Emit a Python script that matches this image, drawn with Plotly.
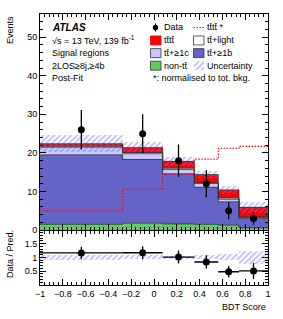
import numpy as np
import plotly.graph_objects as go

# ---------------- data ----------------
bin_edges = [-1.0, -0.275, 0.076, 0.354, 0.564, 0.746, 1.0]
data_counts = [26, 25, 18, 12, 5, 3]
data_err = [5.1, 5.0, 4.2, 3.5, 2.2, 1.7]
non_tt = [1.5, 1.8, 1.6, 1.5, 1.3, 0.6]
tt_1b = [18.0, 16.5, 13.0, 9.6, 6.05, 2.5]
tt_1c = [2.0, 1.5, 1.1, 1.0, 0.65, 0.2]
tt_light = [0.2, 0.3, 0.3, 0.2, 0.3, 0.15]
tttt = [0.7, 1.3, 1.8, 2.1, 2.1, 2.45]
total_unc = [2.2, 1.5, 1.1, 1.0, 1.1, 1.35]
tttt_norm = [5.0, 10.6, 14.5, 18.4, 21.2, 21.7]
x_ticks = [-1, -0.8, -0.6, -0.4, -0.2, 0, 0.2, 0.4, 0.6, 0.8, 1]
x_ticklabels = ["\u22121", "\u22120.8", "\u22120.6", "\u22120.4", "\u22120.2", "0",
                "0.2", "0.4", "0.6", "0.8", "1"]

# ---------------- derived ----------------
edges = np.array(bin_edges)
centers = 0.5 * (edges[:-1] + edges[1:])
widths = edges[1:] - edges[:-1]
comps = [
    ("non-tt", np.array(non_tt), "#64c864"),
    ("tt+>=1b", np.array(tt_1b), "#6464c8"),
    ("tt+>=1c", np.array(tt_1c), "#c8c8ff"),
    ("tt+light", np.array(tt_light), "#ffffff"),
    ("tttt", np.array(tttt), "#ff0000"),
]
total = sum(c[1] for c in comps)
unc = np.array(total_unc)
dat = np.array(data_counts, dtype=float)
derr = np.array(data_err)
ratio = dat / total
ratio_err = derr / total
rel_unc = unc / total

FONT = "Liberation Sans, Arial, Helvetica, sans-serif"
W, H = 283, 319
L, R, T, B = 40, 15, 13.5, 34
ph = H - T - B
pw = W - L - R
split = (285 - 230) / ph

def px(xp):
    return (xp - L) / pw

def py(yp):
    return (H - B - yp) / ph

fig = go.Figure()

# stacked components
base = np.zeros(len(centers))
tops = []
for name, vals, col in comps:
    fig.add_trace(go.Bar(x=centers, y=vals, base=base, width=widths,
                         marker=dict(color=col, line=dict(width=0)),
                         xaxis="x", yaxis="y", showlegend=False, hoverinfo="skip"))
    base = base + vals
    tops.append(base.copy())

# outlines of stacked components
for t in tops:
    fig.add_trace(go.Scatter(x=edges, y=np.append(t, t[-1]), mode="lines",
                             line=dict(color="#333333", width=0.8, shape="hv"),
                             xaxis="x", yaxis="y", showlegend=False, hoverinfo="skip"))

# uncertainty band
hatch = dict(color="rgba(0,0,0,0)",
             pattern=dict(shape="/", fgcolor="#7070ff", bgcolor="rgba(0,0,0,0)",
                          size=4, solidity=0.4),
             line=dict(width=0))
fig.add_trace(go.Bar(x=centers, y=2 * unc, base=total - unc, width=widths,
                     marker=hatch, xaxis="x", yaxis="y", showlegend=False,
                     hoverinfo="skip"))

# normalised tttt
tn = np.array(tttt_norm)
fig.add_trace(go.Scatter(x=edges, y=np.append(tn, tn[-1]), mode="lines",
                         line=dict(color="#ff0000", width=1.1, dash="1.5px,1.5px", shape="hv"),
                         xaxis="x", yaxis="y", showlegend=False, hoverinfo="skip"))

# data
fig.add_trace(go.Scatter(x=centers, y=dat, mode="markers",
                         marker=dict(color="black", size=7),
                         error_y=dict(type="data", array=derr, color="black",
                                      thickness=1.3, width=0),
                         xaxis="x", yaxis="y", showlegend=False))

# ratio band
fig.add_trace(go.Bar(x=centers, y=2 * rel_unc, base=1 - rel_unc, width=widths,
                     marker=hatch, xaxis="x2", yaxis="y2", showlegend=False,
                     hoverinfo="skip"))
fig.add_trace(go.Scatter(x=centers, y=ratio, mode="markers",
                         marker=dict(color="black", size=7),
                         error_y=dict(type="data", array=ratio_err, color="black",
                                      thickness=1.3, width=0),
                         error_x=dict(type="data", array=widths / 2, color="black",
                                      thickness=1.3, width=0),
                         xaxis="x2", yaxis="y2", showlegend=False))

axis_common = dict(showline=True, linecolor="black", linewidth=1, mirror="ticks",
                   ticks="inside", tickcolor="black", ticklen=6, tickwidth=1,
                   showgrid=False, zeroline=False, automargin=False,
                   tickfont=dict(family=FONT, size=9, color="black"))

fig.update_layout(
    width=W, height=H, margin=dict(l=L, r=R, t=T, b=B, autoexpand=False),
    paper_bgcolor="white", plot_bgcolor="white",
    barmode="overlay", bargap=0, showlegend=False,
    font=dict(family=FONT, size=9, color="black"),
    xaxis=dict(domain=[0, 1], anchor="y", range=[-1, 1], tickvals=x_ticks,
               showticklabels=False,
               minor=dict(dtick=0.04, tick0=-1, ticklen=3, ticks="inside", tickcolor="black"),
               **axis_common),
    yaxis=dict(domain=[split, 1], anchor="x", range=[0, 56], dtick=10, tick0=0,
               minor=dict(dtick=2, ticklen=3, ticks="inside", tickcolor="black"),
               **axis_common),
    xaxis2=dict(domain=[0, 1], anchor="y2", range=[-1, 1], matches="x",
                tickvals=x_ticks, ticktext=x_ticklabels,
                minor=dict(dtick=0.04, tick0=-1, ticklen=3, ticks="inside", tickcolor="black"),
                **axis_common),
    yaxis2=dict(domain=[0, split - 0.002], anchor="x2", range=[0.0, 1.97],
                tickvals=[0.5, 1, 1.5], ticktext=["0.5", "1", "1.5"],
                minor=dict(dtick=0.1, ticklen=3, ticks="inside", tickcolor="black"),
                **axis_common),
)

ann = []
def text(x, y, s, size=9, xanchor="left", yanchor="middle", angle=0, **kw):
    ann.append(dict(x=px(x), y=py(y), xref="paper", yref="paper", text=s,
                    showarrow=False, xanchor=xanchor, yanchor=yanchor,
                    textangle=angle, font=dict(family=FONT, size=size, color="black"), **kw))

# axis titles
text(10, 13.5, "Events", xanchor="center", yanchor="top", angle=-90)
text(10, 254, "Data / Pred.", xanchor="center", yanchor="middle", angle=-90)
text(268, 307, "BDT Score", xanchor="right", yanchor="middle")

# ATLAS labels
text(50, 27, "<b><i>ATLAS</i></b>", size=10)
text(50, 40, "\u221As = 13 TeV, 139 fb<sup>-1</sup>")
text(50, 52.7, "Signal regions")
text(50, 65.3, "2LOS\u22658j,\u22654b")
text(50, 78, "Post-Fit")

# legend
shapes = []
def box(x0, y0, x1, y1, fill, line="#333333", lw=0.8):
    shapes.append(dict(type="rect", xref="paper", yref="paper",
                       x0=px(x0), x1=px(x1), y0=py(y1), y1=py(y0),
                       fillcolor=fill, line=dict(color=line, width=lw)))

rows = [27, 40, 52.7, 65.3]
c1b, c1t = 150.5, 161.5
c2b, c2t = 193.5, 205
# Data marker
shapes.append(dict(type="line", xref="paper", yref="paper", x0=px(155.5), x1=px(155.5),
                   y0=py(31), y1=py(23), line=dict(color="black", width=1.2)))
shapes.append(dict(type="circle", xref="paper", yref="paper", x0=px(152.8), x1=px(158.2),
                   y0=py(29.7), y1=py(24.3), fillcolor="black", line=dict(color="black", width=0)))
text(c1t, rows[0], "Data")
# tttt* dotted
shapes.append(dict(type="line", xref="paper", yref="paper", x0=px(193.5), x1=px(204),
                   y0=py(27), y1=py(27), line=dict(color="#ff0000", width=1.1, dash="1.5px,1.5px")))
text(c2t, rows[0], "tt\u0304tt\u0304 *")
box(c1b, rows[1] - 4.5, c1b + 10.5, rows[1] + 4.5, "#ff0000", line="#ff0000")
text(c1t, rows[1], "tt\u0304tt\u0304")
box(c2b, rows[1] - 4.5, c2b + 10.5, rows[1] + 4.5, "#ffffff")
text(c2t, rows[1], "tt\u0304+light")
box(c1b, rows[2] - 4.5, c1b + 10.5, rows[2] + 4.5, "#c8c8ff")
text(c1t, rows[2], "tt\u0304+\u22651c")
box(c2b, rows[2] - 4.5, c2b + 10.5, rows[2] + 4.5, "#6464c8")
text(c2t, rows[2], "tt\u0304+\u22651b")
box(c1b, rows[3] - 4.5, c1b + 10.5, rows[3] + 4.5, "#64c864")
text(c1t, rows[3], "non-tt\u0304")
text(c1b, 78, "*: normalised to tot. bkg.")
text(c2t, rows[3], "Uncertainty")

fig.update_layout(annotations=ann, shapes=shapes)

# hatched legend box drawn as a small bar on a hidden helper axis
fig.add_trace(go.Bar(x=[0.5], y=[1], base=[0], width=[1], marker=hatch,
                     xaxis="x3", yaxis="y3", showlegend=False, hoverinfo="skip"))
fig.update_layout(
    xaxis3=dict(domain=[px(c2b), px(c2b + 10.5)], range=[0, 1], visible=False, anchor="y3"),
    yaxis3=dict(domain=[py(rows[3] + 4.5), py(rows[3] - 4.5)], range=[0, 1], visible=False, anchor="x3"),
)

fig.write_html("out.html",
               config={"displayModeBar": False, "staticPlot": True},
               post_script="document.body.style.margin='0';document.body.style.padding='0';")
